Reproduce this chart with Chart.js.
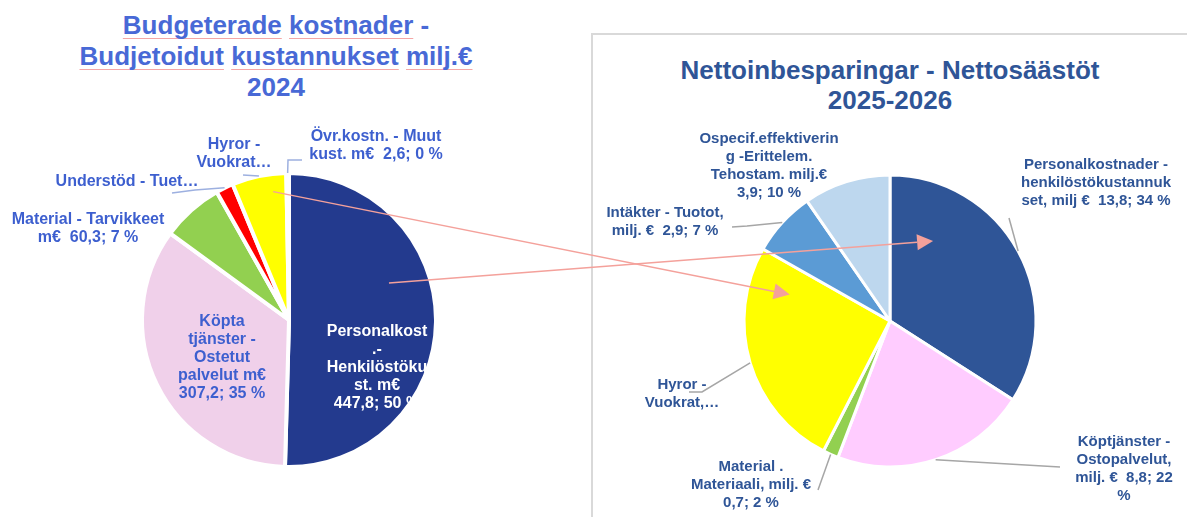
<!DOCTYPE html>
<html>
<head>
<meta charset="utf-8">
<script src="https://cdn.jsdelivr.net/npm/chart.js@4.4.1/dist/chart.umd.min.js"></script>
<style>
  body { margin: 0; background: #fff; }
  #wrap { position: relative; width: 1187px; height: 517px; overflow: hidden; font-family: "Liberation Sans", Arial, sans-serif; }
  .title { position: absolute; text-align: center; font-weight: bold; font-size: 26px; line-height: 31px; white-space: nowrap; }
  .sp { text-decoration: underline; text-decoration-color: #f4a6a6; text-decoration-thickness: 1px; text-underline-offset: 4px; text-decoration-skip-ink: none; }
  #frame { position: absolute; left: 591px; top: 33px; width: 620px; height: 520px; border: 2px solid #d9d9d9; box-sizing: border-box; }
  canvas { position: absolute; top: 0; }
</style>
</head>
<body>
<div id="wrap">
  <div id="frame"></div>
  <div class="title" style="left:0;width:552px;top:10px;color:#4869d6">
    <span class="sp">Budgeterade</span> <span class="sp">kostnader</span> -<br>
    <span class="sp">Budjetoidut</span> <span class="sp">kustannukset</span> <span class="sp">milj.€</span><br>
    2024
  </div>
  <div class="title" style="left:591px;width:598px;top:55px;line-height:30px;color:#2f5597">
    Nettoinbesparingar - Nettosäästöt<br>2025-2026
  </div>
  <canvas id="left" width="590" height="517" style="left:0"></canvas>
  <canvas id="right" width="596" height="517" style="left:591px"></canvas>
  <canvas id="overlay" width="1187" height="517" style="left:0;pointer-events:none"></canvas>
</div>
<script>
// --- data: budget 2024 (left) ---
const leftCategories = ['Personalkost.-Henkilöstökust.', 'Köpta tjänster - Ostetut palvelut', 'Material - Tarvikkeet', 'Understöd - Tuet', 'Hyror - Vuokrat', 'Övr.kostn. - Muut kust.'];
const leftValues = [447.8, 307.2, 60.3, 17, 53, 2.6];
const leftText = [
  ['Personalkost', '.-', 'Henkilöstöku', 'st. m€', '{v}; {n} %'],
  ['Köpta', 'tjänster -', 'Ostetut', 'palvelut m€', '{v}; {n} %'],
  ['Material - Tarvikkeet', 'm€  {v}; {n} %'],
  ['Understöd - Tuet…'],
  ['Hyror -', 'Vuokrat…'],
  ['Övr.kostn. - Muut', 'kust. m€  {v}; {n} %'],
];

// --- data: net savings 2025-2026 (right) ---
const rightCategories = ['Personalkostnader - henkilöstökustannukset', 'Köptjänster - Ostopalvelut', 'Material . Materiaali', 'Hyror - Vuokrat', 'Intäkter - Tuotot', 'Ospecif.effektivering -Erittelem. Tehostam.'];
const rightValues = [13.8, 8.8, 0.7, 10.4, 2.9, 3.9];
const rightText = [
  ['Personalkostnader -', 'henkilöstökustannuk', 'set, milj €  {v}; {n} %'],
  ['Köptjänster -', 'Ostopalvelut,', 'milj. €  {v}; {n}', '%'],
  ['Material .', 'Materiaali, milj. €', '{v}; {n} %'],
  ['Hyror -', 'Vuokrat,…'],
  ['Intäkter - Tuotot,', 'milj. €  {v}; {n} %'],
  ['Ospecif.effektiverin', 'g -Erittelem.', 'Tehostam. milj.€', '{v}; {n} %'],
];

// label layout (offsets from pie centre) and leader elbows
const leftLayout = [
  { at: [88, 48], color: '#ffffff' },
  { at: [-67, 38] },
  { at: [-201, -91] },
  { at: [-162, -138], leader: [[-94, -130], [-117, -127]] },
  { at: [-55, -166], leader: [[-46, -145]] },
  { at: [87, -174], leader: [[-1, -160], [13, -160]] },
];
const rightLayout = [
  { at: [206, -138], leader: [[119, -103]] },
  { at: [234, 148], leader: [[170, 146]] },
  { at: [-139, 164], leader: [[-72, 169]] },
  { at: [-208, 73], leader: [[-188, 71], [-201, 71]] },
  { at: [-225, -99], leader: [[-143, -95], [-158, -94]] },
  { at: [-121, -155] },
];

const fmt = v => v.toFixed(1).replace('.', ',');

function labelPlugin(texts, layout, values, font, color, leaderColor) {
  const total = values.reduce((a, b) => a + b, 0);
  return {
    id: 'sliceLabels',
    afterDatasetsDraw(chart) {
      const ctx = chart.ctx;
      const arcs = chart.getDatasetMeta(0).data;
      const cx = arcs[0].x, cy = arcs[0].y;
      ctx.save();
      layout.forEach((l, i) => {
        const arc = arcs[i];
        if (l.leader) {
          const mid = (arc.startAngle + arc.endAngle) / 2;
          ctx.beginPath();
          ctx.moveTo(cx + arc.outerRadius * Math.cos(mid), cy + arc.outerRadius * Math.sin(mid));
          l.leader.forEach(p => ctx.lineTo(cx + p[0], cy + p[1]));
          ctx.strokeStyle = leaderColor;
          ctx.lineWidth = 1.5;
          ctx.stroke();
        }
        const lines = texts[i].map(s => s.replace('{v}', fmt(values[i])).replace('{n}', Math.round(values[i] / total * 100)));
        ctx.font = font;
        ctx.fillStyle = l.color || color;
        ctx.textAlign = 'center';
        ctx.textBaseline = 'middle';
        lines.forEach((s, k) => ctx.fillText(s, cx + l.at[0], cy + l.at[1] + (k - (lines.length - 1) / 2) * 18));
      });
      ctx.restore();
    }
  };
}

function pieChart(id, categories, values, colors, radius, padding, border, plugin) {
  return new Chart(document.getElementById(id), {
    type: 'pie',
    data: {
      labels: categories,
      datasets: [{ data: values, backgroundColor: colors, borderColor: '#ffffff', borderWidth: border }],
    },
    options: {
      responsive: false, animation: false, radius: radius,
      layout: { padding: padding },
      plugins: { legend: { display: false }, tooltip: { enabled: false } },
    },
    plugins: [plugin],
  });
}

const leftChart = pieChart('left', leftCategories, leftValues,
  ['#233a8e', '#f0d0ea', '#92d050', '#ff0000', '#ffff00', '#4472c4'],
  147, { left: 142, right: 154, top: 173, bottom: 50 }, 4,
  labelPlugin(leftText, leftLayout, leftValues, 'bold 16px "Liberation Sans", Arial, sans-serif', '#3d5fcf', '#9db0e0'));

const rightChart = pieChart('right', rightCategories, rightValues,
  ['#2f5597', '#ffccff', '#92d050', '#ffff00', '#5b9bd5', '#bdd7ee'],
  146, { left: 153, right: 151, top: 175, bottom: 50 }, 3,
  labelPlugin(rightText, rightLayout, rightValues, 'bold 15px "Liberation Sans", Arial, sans-serif', '#2f5597', '#a6a6a6'));

// arrows linking slices of the two pies: [chart, canvas x, slice, angle fraction, radius fraction]
const arrows = [
  { from: [leftChart, 0, 4, 0.72, 0.88], to: [rightChart, 591, 3, 0.84, 0.71] },
  { from: [leftChart, 0, 0, 0.384, 0.725], to: [rightChart, 591, 0, 0.231, 0.622] },
];

function slicePoint([chart, offX, idx, frac, rFrac]) {
  const arc = chart.getDatasetMeta(0).data[idx];
  const a = arc.startAngle + (arc.endAngle - arc.startAngle) * frac;
  const r = arc.outerRadius * rFrac;
  return [offX + arc.x + r * Math.cos(a), arc.y + r * Math.sin(a)];
}

const octx = document.getElementById('overlay').getContext('2d');
octx.strokeStyle = '#f4a19b';
octx.fillStyle = '#f4a19b';
octx.lineWidth = 1.5;
arrows.forEach(ar => {
  const [x0, y0] = slicePoint(ar.from);
  const [x1, y1] = slicePoint(ar.to);
  const ang = Math.atan2(y1 - y0, x1 - x0);
  const len = 16, half = 8;
  const bx = x1 - len * Math.cos(ang), by = y1 - len * Math.sin(ang);
  octx.beginPath();
  octx.moveTo(x0, y0);
  octx.lineTo(bx, by);
  octx.stroke();
  octx.beginPath();
  octx.moveTo(x1, y1);
  octx.lineTo(bx + half * Math.sin(ang), by - half * Math.cos(ang));
  octx.lineTo(bx - half * Math.sin(ang), by + half * Math.cos(ang));
  octx.closePath();
  octx.fill();
});
</script>
</body>
</html>
